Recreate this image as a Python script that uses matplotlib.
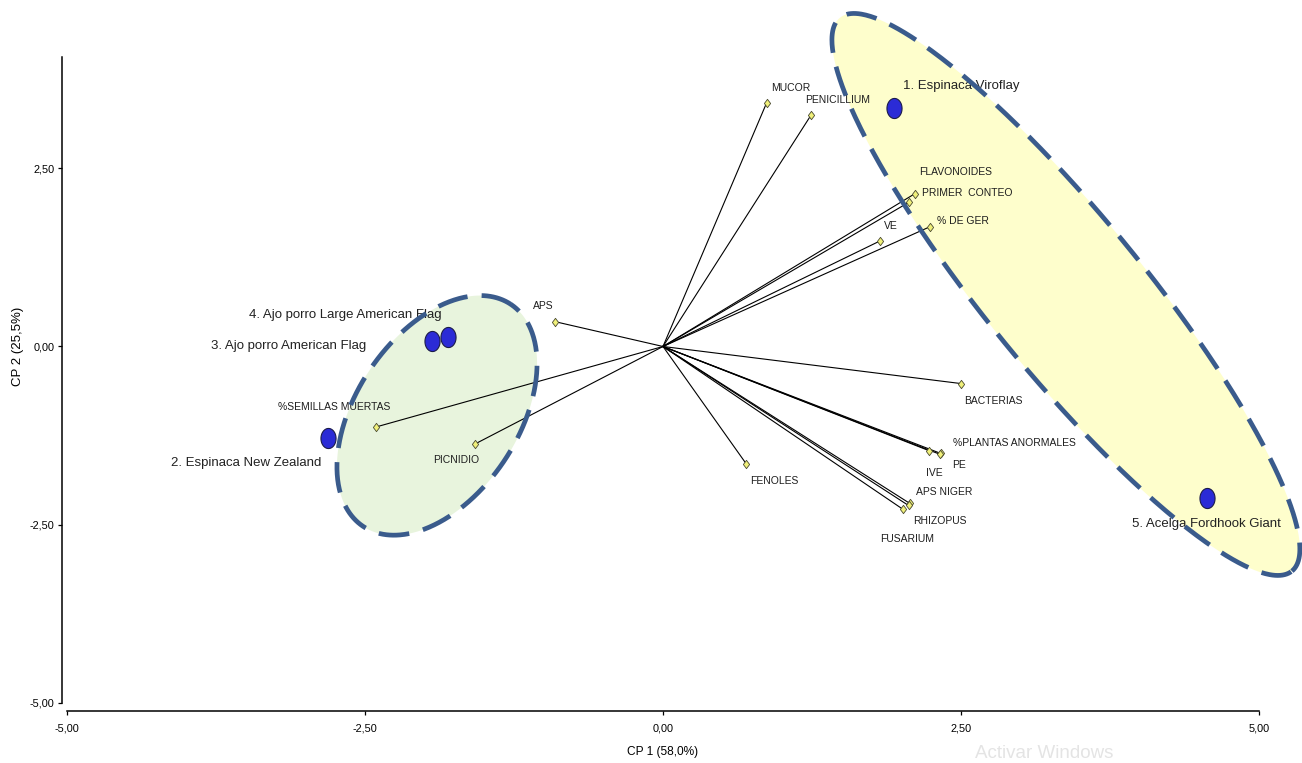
import numpy as np
import matplotlib.pyplot as plt
from matplotlib.path import Path

# observaciones (cultivares) en CP1 / CP2
obs_names = ['1. Espinaca Viroflay', '2. Espinaca New Zealand',
             '3. Ajo porro American Flag', '4. Ajo porro Large American Flag',
             '5. Acelga Fordhook Giant']
obs_cp1 = [1.94, -2.81, -1.94, -1.80, 4.56]
obs_cp2 = [3.35, -1.29, 0.07, 0.13, -2.13]

# variables (vectores desde el origen)
var_names = ['MUCOR', 'PENICILLIUM', 'FLAVONOIDES', 'PRIMER  CONTEO', '% DE GER',
             'VE', 'APS', 'BACTERIAS', '%PLANTAS ANORMALES', 'PE', 'IVE',
             'APS NIGER', 'RHIZOPUS', 'FUSARIUM', 'FENOLES',
             '%SEMILLAS MUERTAS', 'PICNIDIO']
var_cp1 = [0.87, 1.24, 2.11, 2.06, 2.24, 1.82, -0.91, 2.50, 2.33, 2.32, 2.23,
           2.07, 2.06, 2.01, 0.70, -2.41, -1.58]
var_cp2 = [3.42, 3.24, 2.14, 2.02, 1.68, 1.48, 0.35, -0.52, -1.50, -1.51, -1.46,
           -2.20, -2.23, -2.28, -1.65, -1.13, -1.37]

# label offsets in pixels (dx, dy with y down) and alignment
obs_offsets = [(9, -22, 'left'), (-7, 25, 'right'), (-66, 5, 'right'),
               (-7, -22, 'right'), (0, 26, 'center')]
var_offsets = [(4, -15), (-6, -15), (5, -22), (13, -9), (7, -6), (4, -15),
               (-22, -16), (3, 17), (12, -10), (13, 11), (-3, 22), (6, -11),
               (5, 16), (-22, 30), (4, 17), (-98, -20), (-42, 16)]

# grupos: centro y semiejes (unidades de datos)
groups = [
    dict(center=(3.38, 0.73), u=(1.896, -3.88), v=(0.508, 0.690), fill='#fefecc'),
    dict(center=(-1.896, -0.966), u=(0.618, 1.559), v=(-0.568, 0.627), fill='#e8f4dd'),
]

FONT = ['Liberation Sans', 'DejaVu Sans']
PX = 0.72  # pixels -> points at 100 dpi


def squashed(kind):
    """Marker path compressed horizontally, like the screenshot."""
    if kind == 'circle':
        t = np.linspace(0, 2 * np.pi, 40)
        verts = np.column_stack([0.75 * np.cos(t), np.sin(t)])
    else:
        verts = np.array([[0, 1], [0.75, 0], [0, -1], [-0.75, 0], [0, 1]])
    return Path(verts, closed=True)


fig = plt.figure(figsize=(13.02, 7.63), dpi=100)
ax = fig.add_axes([67 / 1302, 60 / 763, 1192 / 1302, 646 / 763])
ax.set_xlim(-5, 5)
ax.set_ylim(-5, 4.06)

# ellipses
t = np.linspace(0, 2 * np.pi, 500)
for g in groups:
    cx, cy = g['center']
    ex = cx + g['u'][0] * np.cos(t) + g['v'][0] * np.sin(t)
    ey = cy + g['u'][1] * np.cos(t) + g['v'][1] * np.sin(t)
    ax.fill(ex, ey, color=g['fill'], zorder=0, lw=0, clip_on=False)
    ax.plot(ex, ey, color='#3a5b8c', lw=3.4, linestyle=(0, (6.5, 3)),
            zorder=6, clip_on=False)

# vectors
for x, y in zip(var_cp1, var_cp2):
    ax.plot([0, x], [0, y], color='black', lw=0.8, zorder=2)
ax.plot(var_cp1, var_cp2, linestyle='none', marker=squashed('diamond'),
        markersize=6, markerfacecolor='#f0f07a', markeredgecolor='#4a4a30',
        markeredgewidth=0.6, zorder=3)
for name, x, y, (dx, dy) in zip(var_names, var_cp1, var_cp2, var_offsets):
    ax.annotate(name, (x, y), xytext=(dx * PX, -dy * PX), textcoords='offset points',
                ha='left', va='center', fontsize=7.5, family=FONT,
                color='#1e1e1e', zorder=4)

# observations
ax.plot(obs_cp1, obs_cp2, linestyle='none', marker=squashed('circle'),
        markersize=14.5, markerfacecolor='#2b2bd6', markeredgecolor='#1c1c4a',
        markeredgewidth=0.8, zorder=5)
for name, x, y, (dx, dy, ha) in zip(obs_names, obs_cp1, obs_cp2, obs_offsets):
    ax.annotate(name, (x, y), xytext=(dx * PX, -dy * PX), textcoords='offset points',
                ha=ha, va='center', fontsize=9.5, family=FONT,
                color='#222222', zorder=4)

# axes styling
for side in ['top', 'right']:
    ax.spines[side].set_visible(False)
ax.spines['left'].set_position(('outward', 5 * PX))
ax.spines['bottom'].set_position(('outward', 8 * PX))
for side in ['left', 'bottom']:
    ax.spines[side].set_linewidth(1.1)

ax.set_xticks([-5, -2.5, 0, 2.5, 5])
ax.set_yticks([-5, -2.5, 0, 2.5])
ax.set_xticklabels(['-5,00', '-2,50', '0,00', '2,50', '5,00'], family=FONT, fontsize=7.8)
ax.set_yticklabels(['-5,00', '-2,50', '0,00', '2,50'], family=FONT, fontsize=7.8)
ax.tick_params(direction='out', length=3, width=0.9, pad=2.5)
ax.tick_params(axis='x', pad=6)

ax.set_xlabel('CP 1 (58,0%)', family=FONT, fontsize=8.6)
ax.xaxis.set_label_coords(0.5, -(746 - 703) / 646)
ax.set_ylabel('CP 2 (25,5%)', family=FONT, fontsize=9.5)
ax.yaxis.set_label_coords((24 - 67) / 1192, (703 - 346) / 646)

fig.text(975 / 1302, 1 - 753 / 763, 'Activar Windows', family=FONT, fontsize=13.5,
         color='#e4e4e4', ha='left', va='center')

fig.savefig('out.png', dpi=100)
